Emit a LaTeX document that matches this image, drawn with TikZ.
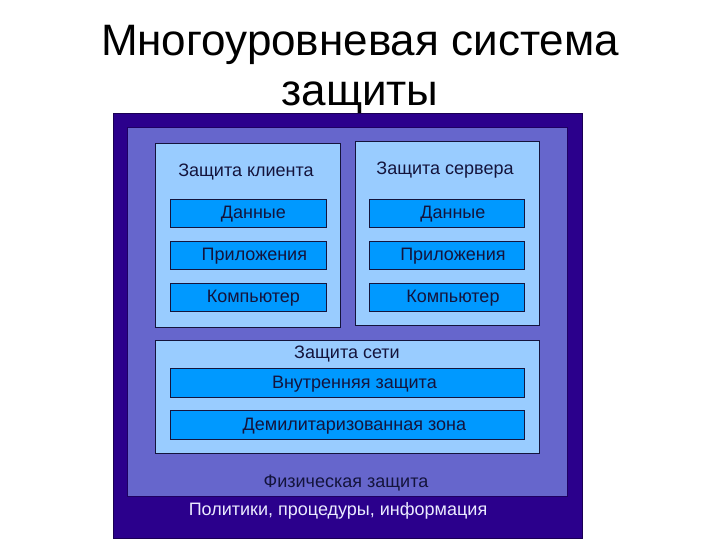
\documentclass[tikz,border=0pt]{standalone}
\usepackage{fontspec}
\setmainfont{Liberation Sans}
\definecolor{navy}{RGB}{43,0,140}
\definecolor{midblue}{RGB}{102,102,204}
\definecolor{lightblue}{RGB}{153,204,255}
\definecolor{barblue}{RGB}{0,153,255}
\definecolor{txt}{RGB}{20,20,60}
\definecolor{wtxt}{RGB}{235,235,255}
\tikzset{
  box/.style={draw=#1!60!black, rectangle, inner sep=0pt, anchor=north west, line width=1pt},
  bar/.style={draw=txt, fill=barblue, rectangle, inner sep=0pt, anchor=north west, line width=0.8pt},
  lbl/.style={text=txt, font=\fontsize{18}{21}\selectfont, inner sep=0pt},
}
\begin{document}
\begin{tikzpicture}[x=1pt,y=-1pt]
\useasboundingbox (0,0) rectangle (720,540);
\node[font=\fontsize{44}{50}\selectfont, text=black, align=center] (title) at (360,70) {Многоуровневая система\\защиты};
\node[box=navy, fill=navy, minimum width=469pt, minimum height=425pt] (outer) at (113,113) {};
\node[box=midblue, fill=midblue, draw=navy!70!black, minimum width=440pt, minimum height=369pt] (mid) at (127,127) {};
\node[box=lightblue, fill=lightblue, draw=txt, minimum width=185pt, minimum height=184pt] (client) at (155,143) {};
\node[box=lightblue, fill=lightblue, draw=txt, minimum width=184pt, minimum height=184pt] (server) at (355,141) {};
\node[box=lightblue, fill=lightblue, draw=txt, minimum width=384pt, minimum height=113pt] (net) at (155,340) {};
% client bars
\node[bar, minimum width=156pt, minimum height=28pt] (c1) at (170,199) {};
\node[bar, minimum width=156pt, minimum height=28pt] (c2) at (170,241) {};
\node[bar, minimum width=156pt, minimum height=28pt] (c3) at (170,283) {};
% server bars
\node[bar, minimum width=155pt, minimum height=28pt] (s1) at (369,199) {};
\node[bar, minimum width=155pt, minimum height=28pt] (s2) at (369,241) {};
\node[bar, minimum width=155pt, minimum height=28pt] (s3) at (369,283) {};
% net bars
\node[bar, minimum width=354pt, minimum height=29pt] (n1) at (170,368) {};
\node[bar, minimum width=354pt, minimum height=29pt] (n2) at (170,410) {};
% labels
\node[lbl] (lc) at (246,172) {Защита клиента};
\node[lbl] (ls) at (445,170) {Защита сервера};
\node[lbl] at ([xshift=5pt,yshift=-1pt]c1.center) {Данные};
\node[lbl] at ([xshift=6pt,yshift=-1pt]c2.center) {Приложения};
\node[lbl] at ([xshift=5pt,yshift=-1pt]c3.center) {Компьютер};
\node[lbl] at ([xshift=6pt,yshift=-1pt]s1.center) {Данные};
\node[lbl] at ([xshift=6pt,yshift=-1pt]s2.center) {Приложения};
\node[lbl] at ([xshift=6pt,yshift=-1pt]s3.center) {Компьютер};
\node[lbl] (ln) at (347,354) {Защита сети};
\node[lbl] at ([xshift=7pt,yshift=-1pt]n1.center) {Внутренняя защита};
\node[lbl] at ([xshift=7pt,yshift=-1pt]n2.center) {Демилитаризованная зона};
\node[lbl] (lf) at (346,483) {Физическая защита};
\node[lbl, text=wtxt] (lp) at (338,511) {Политики, процедуры, информация};
\end{tikzpicture}
\end{document}
